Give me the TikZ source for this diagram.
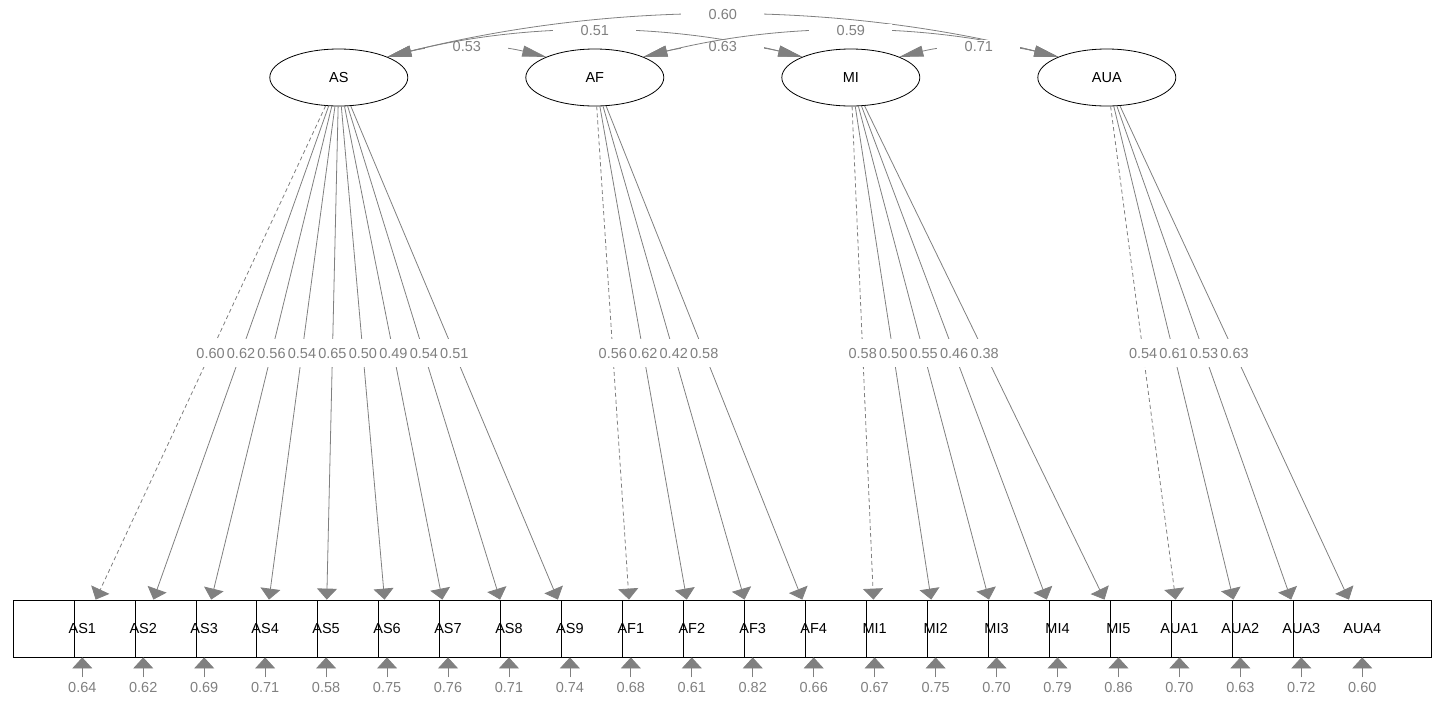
\documentclass[tikz,border=0pt]{standalone}
\usepackage{fontspec}
\setmainfont{Liberation Sans}
\usetikzlibrary{shapes.geometric,arrows.meta,calc}
\definecolor{edgegray}{RGB}{128,128,128}

\begin{document}
\begin{tikzpicture}[x=1pt,y=-1pt,
  latent/.style={draw=black,line width=0.8pt,ellipse,minimum width=138pt,
    minimum height=57pt,inner sep=0pt,font=\fontsize{14.5}{16}\selectfont},
  obsbox/.style={draw=black,fill=white,line width=0.8pt,rectangle,
    minimum width=138.5pt,minimum height=57pt,inner sep=0pt},
  obstext/.style={inner sep=0pt,font=\fontsize{14.5}{16}\selectfont},
  load/.style={draw=edgegray,line width=0.8pt,
    -{Triangle[length=11pt,width=20pt]}},
  fixedload/.style={dash pattern=on 4pt off 3pt},
  freeload/.style={solid},
  cov/.style={draw=edgegray,line width=0.8pt,
    {Triangle[length=24pt,width=11pt]}-{Triangle[length=24pt,width=11pt]}},
  loadbg/.style={fill=white,inner sep=0pt,minimum width=30pt,minimum height=28pt},
  covbg/.style={fill=white,inner sep=0pt,minimum width=83pt,minimum height=14pt},
  estlab/.style={inner sep=1pt,text=edgegray,font=\fontsize{14.5}{16}\selectfont},
]
\useasboundingbox (0,0) rectangle (1447,716);

% latent factors
\node[latent] (AS)  at (338.8,77.5)  {AS};
\node[latent] (AF)  at (594.8,77.5)  {AF};
\node[latent] (MI)  at (850.8,77.5)  {MI};
\node[latent] (AUA) at (1106.8,77.5) {AUA};

% indicator boxes, drawn left to right so each one overlaps the previous
\foreach \n/\i in {AS1/0,AS2/1,AS3/2,AS4/3,AS5/4,AS6/5,AS7/6,AS8/7,AS9/8,
                   AF1/9,AF2/10,AF3/11,AF4/12,MI1/13,MI2/14,MI3/15,MI4/16,MI5/17,
                   AUA1/18,AUA2/19,AUA3/20,AUA4/21}{
  \node[obsbox] (b\n) at ({82.3+60.95*\i},628.5) {};
}
\foreach \n/\i in {AS1/0,AS2/1,AS3/2,AS4/3,AS5/4,AS6/5,AS7/6,AS8/7,AS9/8,
                   AF1/9,AF2/10,AF3/11,AF4/12,MI1/13,MI2/14,MI3/15,MI4/16,MI5/17,
                   AUA1/18,AUA2/19,AUA3/20,AUA4/21}{
  \node[obstext] (t\n) at (b\n.center) {\n};
}

% factor loadings (first indicator of each factor is the fixed one)
\foreach \n/\f/\ls in {AS1/AS/fixedload,AS2/AS/freeload,AS3/AS/freeload,
    AS4/AS/freeload,AS5/AS/freeload,AS6/AS/freeload,AS7/AS/freeload,
    AS8/AS/freeload,AS9/AS/freeload,
    AF1/AF/fixedload,AF2/AF/freeload,AF3/AF/freeload,AF4/AF/freeload,
    MI1/MI/fixedload,MI2/MI/freeload,MI3/MI/freeload,MI4/MI/freeload,
    MI5/MI/freeload,
    AUA1/AUA/fixedload,AUA2/AUA/freeload,AUA3/AUA/freeload,AUA4/AUA/freeload}{
  \draw[load,\ls] (\f) -- (b\n);
}
% white patches behind the loading values, then the values themselves
\foreach \n/\f in {AS1/AS,AS2/AS,AS3/AS,AS4/AS,AS5/AS,AS6/AS,AS7/AS,AS8/AS,
    AS9/AS,AF1/AF,AF2/AF,AF3/AF,AF4/AF,MI1/MI,MI2/MI,MI3/MI,MI4/MI,MI5/MI,
    AUA1/AUA,AUA2/AUA,AUA3/AUA,AUA4/AUA}{
  \node[loadbg] (g\n) at ($(\f.center)!0.5!(b\n.center)$) {};
}
\foreach \n/\v in {AS1/0.60,AS2/0.62,AS3/0.56,AS4/0.54,AS5/0.65,AS6/0.50,
    AS7/0.49,AS8/0.54,AS9/0.51,AF1/0.56,AF2/0.62,AF3/0.42,AF4/0.58,
    MI1/0.58,MI2/0.50,MI3/0.55,MI4/0.46,MI5/0.38,
    AUA1/0.54,AUA2/0.61,AUA3/0.53,AUA4/0.63}{
  \node[estlab] (l\n) at (g\n.center) {\v};
}

% residual variances
\foreach \n/\v in {AS1/0.64,AS2/0.62,AS3/0.69,AS4/0.71,AS5/0.58,AS6/0.75,
    AS7/0.76,AS8/0.71,AS9/0.74,AF1/0.68,AF2/0.61,AF3/0.82,AF4/0.66,
    MI1/0.67,MI2/0.75,MI3/0.70,MI4/0.79,MI5/0.86,
    AUA1/0.70,AUA2/0.63,AUA3/0.72,AUA4/0.60}{
  \coordinate (r\n) at ($(b\n.south)+(0,20)$);
  \draw[load] (r\n) -- (b\n.south);
  \node[estlab] (v\n) at ($(b\n.south)+(0,30)$) {\v};
}

% factor covariances, each followed by its value
\draw[cov] (AS.23) .. controls +(53.7,-13.3) and +(-53.7,-13.3) .. (AF.157)
  coordinate[pos=0.5] (cASAF);
\node[covbg] (hASAF) at (cASAF) {};
\node[estlab] (kASAF) at (cASAF) {0.53};

\draw[cov] (AS.23) .. controls +(138.7,-34.7) and +(-138.7,-34.7) .. (MI.157)
  coordinate[pos=0.5] (cASMI);
\node[covbg] (hASMI) at (cASMI) {};
\node[estlab] (kASMI) at (cASMI) {0.51};

\draw[cov] (AS.23) .. controls +(224.3,-56) and +(-224.3,-56) .. (AUA.157)
  coordinate[pos=0.5] (cASAUA);
\node[covbg] (hASAUA) at (cASAUA) {};
\node[estlab] (kASAUA) at (cASAUA) {0.60};

\draw[cov] (AF.23) .. controls +(53.3,-13.3) and +(-53.3,-13.3) .. (MI.157)
  coordinate[pos=0.5] (cAFMI);
\node[covbg] (hAFMI) at (cAFMI) {};
\node[estlab] (kAFMI) at (cAFMI) {0.63};

\draw[cov] (AF.23) .. controls +(139,-34.7) and +(-139,-34.7) .. (AUA.157)
  coordinate[pos=0.5] (cAFAUA);
\node[covbg] (hAFAUA) at (cAFAUA) {};
\node[estlab] (kAFAUA) at (cAFAUA) {0.59};

\draw[cov] (MI.23) .. controls +(54,-13.3) and +(-54,-13.3) .. (AUA.157)
  coordinate[pos=0.5] (cMIAUA);
\node[covbg] (hMIAUA) at (cMIAUA) {};
\node[estlab] (kMIAUA) at (cMIAUA) {0.71};
\end{tikzpicture}
\end{document}
